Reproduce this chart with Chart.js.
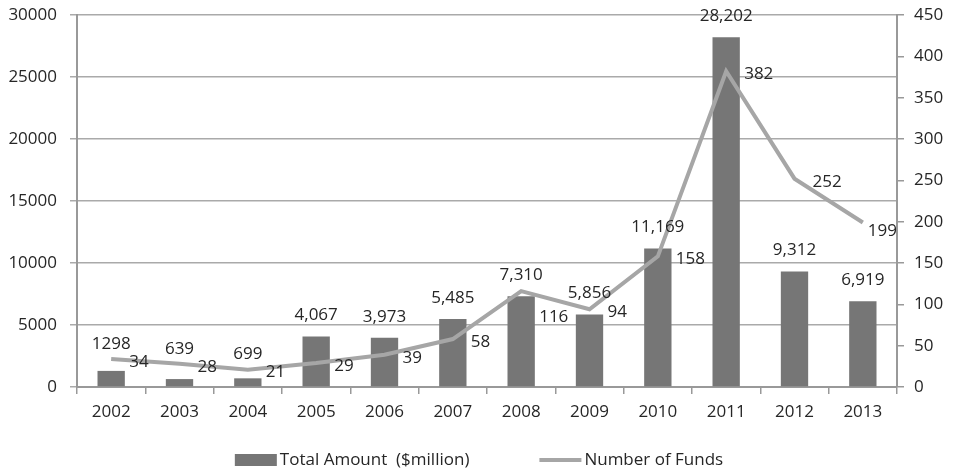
<!DOCTYPE html>
<html>
<head>
<meta charset="utf-8">
<title>Funds 2002-2013</title>
<script src="https://cdn.jsdelivr.net/npm/chart.js@4.4.1/dist/chart.umd.min.js"></script>
<style>
  html, body { margin: 0; padding: 0; background: #fff; }
  #wrap { width: 958px; height: 471px; }
</style>
</head>
<body>
<div id="wrap"><canvas id="chart" width="958" height="471"></canvas></div>
<script>
// Chart data
const years = ['2002', '2003', '2004', '2005', '2006', '2007', '2008', '2009', '2010', '2011', '2012', '2013'];
const totalAmount = [1298, 639, 699, 4067, 3973, 5485, 7310, 5856, 11169, 28202, 9312, 6919];
const numberOfFunds = [34, 28, 21, 29, 39, 58, 116, 94, 158, 382, 252, 199];
const amountLabel = 'Total Amount  ($million)';
const fundsLabel = 'Number of Funds';

const FONT = '"Open Sans", sans-serif';
const TEXT = '#262626';
const BAR = '#767676';
const LINE = '#a6a6a6';

function fmtAmount(v, i) {
  // first year is printed without a thousands separator
  return i === 0 ? String(v) : v.toLocaleString('en-US');
}

function overlaps(a, b) {
  return a.x1 < b.x2 && a.x2 > b.x1 && a.y1 < b.y2 && a.y2 > b.y1;
}

// Value labels: above the bars, right of the line points
const valueLabels = {
  id: 'valueLabels',
  afterDatasetsDraw(chart) {
    const ctx = chart.ctx;
    const area = chart.chartArea;
    ctx.save();
    ctx.font = '17px ' + FONT;
    ctx.fillStyle = TEXT;
    ctx.textBaseline = 'middle';

    const bars = chart.getDatasetMeta(0).data;
    const pts = chart.getDatasetMeta(1).data;
    const h = 14;

    // bar labels, lifted clear of the line where it runs just above the bar
    const barBoxes = bars.map((bar, i) => {
      const text = fmtAmount(totalAmount[i], i);
      const w = ctx.measureText(text).width;
      let y = bar.y - 21;
      const gap = bar.y - pts[i].y;
      if (gap > -5 && gap < 40) y = Math.min(y, pts[i].y - 15);
      return { text, x: bar.x, y, x1: bar.x - w / 2, x2: bar.x + w / 2, y1: y - h / 2, y2: y + h / 2 };
    });
    ctx.textAlign = 'center';
    barBoxes.forEach(b => ctx.fillText(b.text, b.x, b.y));

    // line labels, dropped below the point if they would hit a bar label
    ctx.textAlign = 'left';
    pts.forEach((p, i) => {
      const text = String(numberOfFunds[i]);
      const w = ctx.measureText(text).width;
      let x = p.x + 18;
      let y = p.y + 3;
      if (x + w > area.right) {
        x = area.right - w;
        y = p.y + 9;
      }
      const box = { x1: x, x2: x + w, y1: y - h / 2, y2: y + h / 2 };
      if (barBoxes.some(b => overlaps(box, b))) y = p.y + 26;
      ctx.fillText(text, x, y);
    });
    ctx.restore();
  }
};

// Legend under the axis
const bottomLegend = {
  id: 'bottomLegend',
  afterDraw(chart) {
    const ctx = chart.ctx;
    ctx.save();
    ctx.font = '17px ' + FONT;
    ctx.fillStyle = TEXT;
    ctx.textBaseline = 'middle';
    ctx.textAlign = 'left';
    const sw = 42, gap = 3, between = 70;
    const w1 = ctx.measureText(amountLabel).width;
    const w2 = ctx.measureText(fundsLabel).width;
    const total = sw + gap + w1 + between + sw + gap + w2;
    let x = (chart.width - total) / 2;
    const y = 460;

    ctx.fillStyle = BAR;
    ctx.fillRect(x, y - 6, sw, 12);
    ctx.fillStyle = TEXT;
    ctx.fillText(amountLabel, x + sw + gap, y);
    x += sw + gap + w1 + between;

    ctx.strokeStyle = LINE;
    ctx.lineWidth = 4;
    ctx.beginPath();
    ctx.moveTo(x, y);
    ctx.lineTo(x + sw, y);
    ctx.stroke();
    ctx.fillText(fundsLabel, x + sw + gap, y);
    ctx.restore();
  }
};

// fixed axis widths, no extra label room above the plot
function fitVertical(width) {
  return scale => {
    scale.width = width;
    scale.paddingTop = 0;
    scale.paddingBottom = 0;
  };
}

const ctx = document.getElementById('chart').getContext('2d');
new Chart(ctx, {
  data: {
    labels: years,
    datasets: [
      {
        type: 'bar',
        label: amountLabel,
        data: totalAmount,
        backgroundColor: BAR,
        yAxisID: 'y',
        barPercentage: 0.8,
        categoryPercentage: 0.5,
        order: 1,
      },
      {
        type: 'line',
        label: fundsLabel,
        data: numberOfFunds,
        borderColor: LINE,
        borderWidth: 4,
        pointRadius: 0,
        tension: 0,
        fill: false,
        yAxisID: 'y1',
        order: 0,
      },
    ],
  },
  options: {
    responsive: false,
    animation: false,
    layout: { padding: { top: 15, bottom: 44, left: 0, right: 0 } },
    plugins: {
      legend: { display: false },
      tooltip: { enabled: false },
    },
    scales: {
      x: {
        offset: true,
        grid: { offset: true, drawOnChartArea: false, tickLength: 7, color: '#999', lineWidth: 1.5 },
        border: { color: '#999', width: 2 },
        ticks: { font: { family: FONT, size: 17 }, color: TEXT, padding: 8 },
        afterFit(scale) {
          scale.height = 40;
          scale.paddingLeft = 0;
          scale.paddingRight = 0;
        },
      },
      y: {
        position: 'left',
        min: 0,
        max: 30000,
        ticks: {
          stepSize: 5000,
          font: { family: FONT, size: 17 },
          color: TEXT,
          padding: 13,
          callback: v => String(v),
        },
        grid: { color: '#aaa', lineWidth: 1.5, tickLength: 7 },
        border: { color: '#999', width: 2 },
        afterFit: fitVertical(77),
      },
      y1: {
        position: 'right',
        min: 0,
        max: 450,
        ticks: { stepSize: 50, font: { family: FONT, size: 17 }, color: TEXT, padding: 10 },
        grid: { drawOnChartArea: false, tickLength: 7, color: '#999', lineWidth: 1.5 },
        border: { color: '#999', width: 2 },
        afterFit: fitVertical(61),
      },
    },
  },
  plugins: [valueLabels, bottomLegend],
});
</script>
</body>
</html>
